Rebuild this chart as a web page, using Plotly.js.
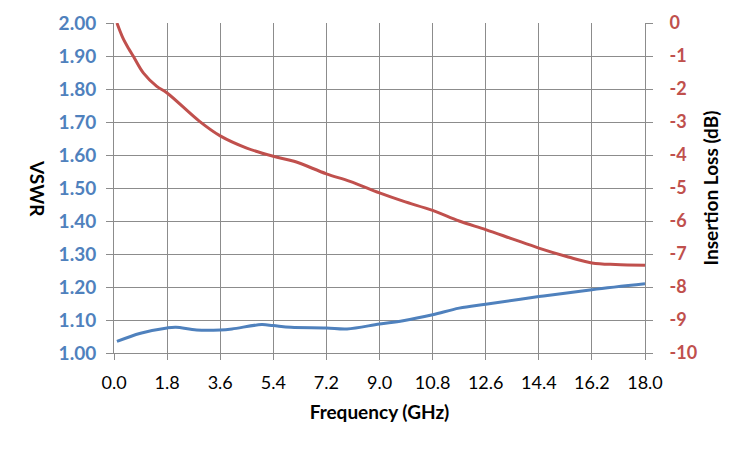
<!DOCTYPE html>
<html>
<head>
<meta charset="utf-8">
<script src="https://cdn.plot.ly/plotly-3.0.1.min.js"></script>
<style>html,body{margin:0;padding:0;background:#fff;}#chart{width:750px;height:450px;}</style>
</head>
<body>
<div id="chart"></div>
<script>
// Frequency (GHz) sample points
const freqVSWR = [0.1, 0.9, 1.8, 2.1, 2.8, 3.6, 4.0, 5.0, 5.4, 6.0, 7.2, 7.9, 9.0, 9.8, 10.8, 11.7, 12.6, 14.4, 16.2, 18.0];
const vswr     = [1.035, 1.060, 1.076, 1.078, 1.070, 1.070, 1.073, 1.086, 1.083, 1.078, 1.076, 1.073, 1.088, 1.098, 1.116, 1.136, 1.148, 1.171, 1.192, 1.210];

const freqIL = [0.1, 0.3, 0.5, 0.65, 1.0, 1.45, 1.8, 2.9, 3.6, 4.5, 5.4, 6.1, 7.2, 8.0, 9.0, 9.8, 10.8, 11.7, 12.6, 13.5, 14.4, 15.4, 16.2, 17.0, 18.0];
const il     = [0.0, -0.45, -0.78, -1.0, -1.52, -1.92, -2.12, -2.98, -3.42, -3.79, -4.04, -4.19, -4.57, -4.80, -5.15, -5.40, -5.68, -6.00, -6.26, -6.54, -6.82, -7.09, -7.27, -7.32, -7.34];

const vswrTicks = ["1.00","1.10","1.20","1.30","1.40","1.50","1.60","1.70","1.80","1.90","2.00"];
const ilTicks = ["-10","-9","-8","-7","-6","-5","-4","-3","-2","-1","0"];

const blue = "#4F81BD", red = "#C0504D", grid = "#8C8C8C";
const fontFam = "Lato, 'Open Sans', sans-serif";

const traces = [
  {x: freqVSWR, y: vswr, type: "scatter", mode: "lines", name: "VSWR",
   line: {color: blue, width: 3, shape: "spline", smoothing: 1}, yaxis: "y"},
  {x: freqIL, y: il, type: "scatter", mode: "lines", name: "Insertion Loss",
   line: {color: red, width: 3, shape: "spline", smoothing: 1}, yaxis: "y2"}
];

const layout = {
  width: 750, height: 450,
  margin: {l: 114, r: 105, t: 23, b: 97},
  paper_bgcolor: "#fff", plot_bgcolor: "#fff",
  showlegend: false,
  font: {family: fontFam, size: 18, color: "#000"},
  xaxis: {
    range: [0, 18], tick0: 0, dtick: 1.8, tickformat: ".1f",
    showgrid: true, gridcolor: grid, gridwidth: 1,
    showline: true, linecolor: grid, linewidth: 1, zeroline: false,
    ticks: "outside", ticklen: 6, tickcolor: grid,
    ticklabelstandoff: 7,
    tickfont: {family: fontFam, size: 18, color: "#000"},
    title: {text: "<b>Frequency (GHz)</b>", font: {family: fontFam, size: 19, color: "#000"}, standoff: 14}
  },
  yaxis: {
    range: [1, 2], tickmode: "array",
    tickvals: vswrTicks.map(Number), ticktext: vswrTicks.map(t => "<b>" + t + "</b>"),
    showgrid: true, gridcolor: grid, gridwidth: 1,
    showline: true, linecolor: grid, linewidth: 1, zeroline: false,
    ticks: "outside", ticklen: 7, tickcolor: grid,
    ticklabelstandoff: 6,
    tickfont: {family: fontFam, size: 19, color: blue}
  },
  yaxis2: {
    range: [-10, 0], overlaying: "y", side: "right", tickmode: "array",
    tickvals: ilTicks.map(Number), ticktext: ilTicks.map(t => "<b>" + t + "</b>"),
    showgrid: false, showline: true, linecolor: grid, linewidth: 1, zeroline: false,
    ticks: "outside", ticklen: 7, tickcolor: grid,
    ticklabelstandoff: 13,
    tickfont: {family: fontFam, size: 18, color: red},
    title: {text: "<b>Insertion Loss (dB)</b>", font: {family: fontFam, size: 19, color: "#000"}, standoff: 8}
  },
  annotations: [{
    text: "<b>VSWR</b>", xref: "paper", yref: "paper",
    x: (38 - 114) / 531, y: 0.5, xanchor: "center", yanchor: "middle",
    textangle: 90, showarrow: false,
    font: {family: fontFam, size: 19, color: "#000"}
  }]
};

Plotly.newPlot("chart", traces, layout, {staticPlot: true, displayModeBar: false});
</script>
</body>
</html>
